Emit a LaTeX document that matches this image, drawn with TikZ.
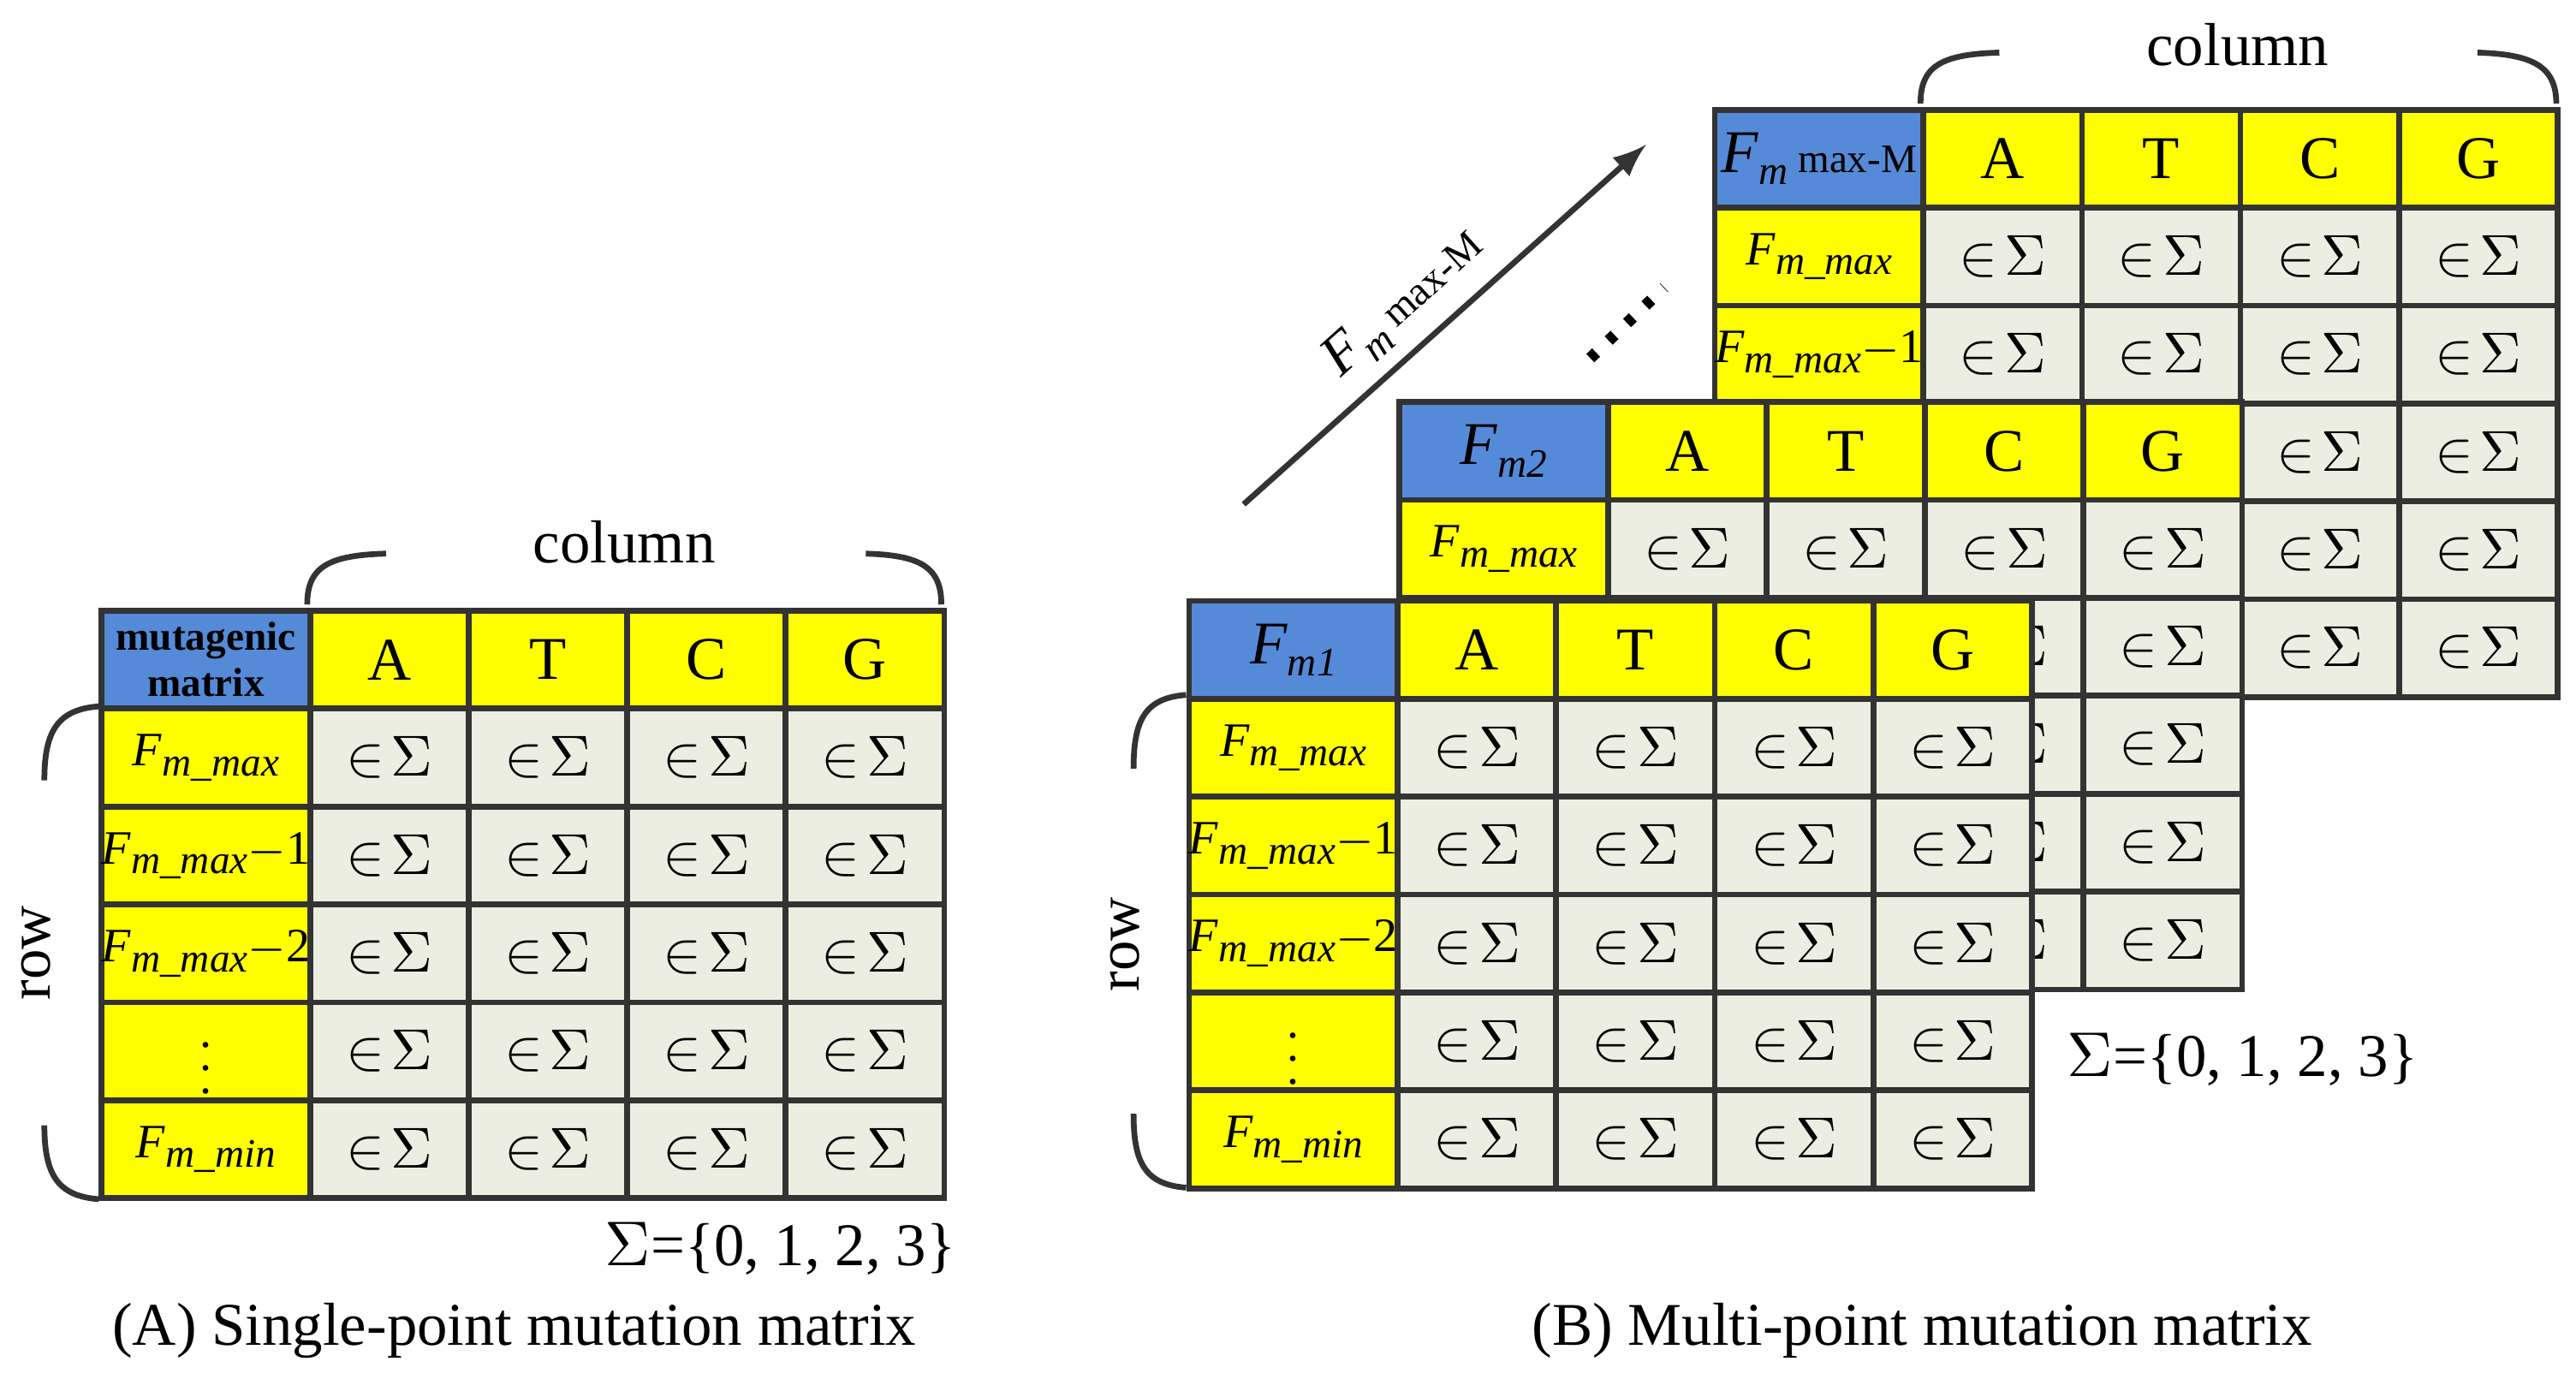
\documentclass[tikz,border=0pt]{standalone}
\usepackage{fontspec}
\setmainfont{Liberation Serif}
\definecolor{hblue}{HTML}{558AD8}
\definecolor{yel}{HTML}{FFFF00}
\definecolor{body}{HTML}{EBEEE0}
\definecolor{bd}{HTML}{333333}
\newcommand\Fs[1]{\textit{F}\raisebox{-0.45ex}{\scriptsize\textit{#1}}}
\newcommand\mytab[4]{%
 \node[cl,fill=hblue,minimum width=1.27cm] (#1h) at (#2,#3) {#4};
 \foreach \c [count=\i] in {A,T,C,G}
   \node[cl,fill=yel] (#1c\i) at ({#2+127+(\i-1)*96.5},#3) {\c};
 \foreach \r [count=\j] in {{\Fs{m\_max}},{\Fs{m\_max}$-$1},{\Fs{m\_max}$-$2},{$\vdots$},{\Fs{m\_min}}}{
   \node[cl,fill=yel,minimum width=1.27cm,font=\fontsize{8.3}{9}\selectfont] (#1r\j) at (#2,{#3+\j*59.6}) {\r};
   \foreach \i in {1,...,4}
     \node[cl,fill=body,font=\fontsize{10}{12}\selectfont] (#1b\j\i) at ({#2+127+(\i-1)*96.5},{#3+\j*59.6}) {$\in\!\Sigma$};
 }}
\begin{document}
\begin{tikzpicture}[x=0.01cm,y=-0.01cm,
 cl/.style={draw=bd,line width=1pt,anchor=north west,inner sep=0pt,minimum width=0.965cm,minimum height=0.596cm,font=\fontsize{10.5}{12}\selectfont},
 br/.style={line width=1pt,bd},
 lab/.style={font=\fontsize{10.5}{13}\selectfont,inner sep=0pt}]
\useasboundingbox (0,0) rectangle (1568,850);
% A
\mytab{a}{60}{370}{\parbox{1.2cm}{\centering\bfseries\fontsize{7}{8}\selectfont mutagenic\\matrix}}
\draw[br] (187,368) .. controls (187,345) and (200,338) .. (235,337);
\draw[br] (527,337) .. controls (560,338) and (573,345) .. (573,368);
\node[lab] (acol) at (380,330) {column};
\draw[br] (60,430) .. controls (35,432) and (27,445) .. (27,475);
\draw[br] (27,685) .. controls (27,715) and (35,728) .. (60,730);
\node[lab,rotate=90] (arow) at (22,580) {row};
\node[lab] (asig) at (475,760) {$\Sigma$=\{0, 1, 2, 3\}};
\node[lab] (acap) at (313,810) {(A) Single-point mutation matrix};
% B
\mytab{m}{1042}{65}{\Fs{m}\,{\scriptsize max-M}}
\mytab{t}{850}{243}{\Fs{m2}}
\mytab{o}{722}{364}{\Fs{m1}}
\draw[br] (1169,63) .. controls (1169,40) and (1182,33) .. (1217,32);
\draw[br] (1508,32) .. controls (1541,33) and (1556,40) .. (1556,63);
\node[lab] (bcol) at (1362,27) {column};
\draw[br] (722,423) .. controls (697,425) and (690,438) .. (690,468);
\draw[br] (690,678) .. controls (690,708) and (697,721) .. (722,723);
\node[lab,rotate=90] (brow) at (685,575) {row};
\coordinate (as) at (757,307);
\coordinate (ae) at (1002,88);
\draw[br,-latex] (as) -- (ae);
\node[lab,rotate=42,font=\fontsize{10}{12}\selectfont] (alab) at (855,185) {\Fs{m}\,{\scriptsize max-M}};
\coordinate (d1) at (968,218);
\coordinate (d2) at (1013,175);
\draw[line width=2pt,dash pattern=on 1.4pt off 3pt] (d1) -- (d2);
\node[lab] (bsig) at (1365,645) {$\Sigma$=\{0, 1, 2, 3\}};
\node[lab] (bcap) at (1170,810) {(B) Multi-point mutation matrix};
\end{tikzpicture}
\end{document}
